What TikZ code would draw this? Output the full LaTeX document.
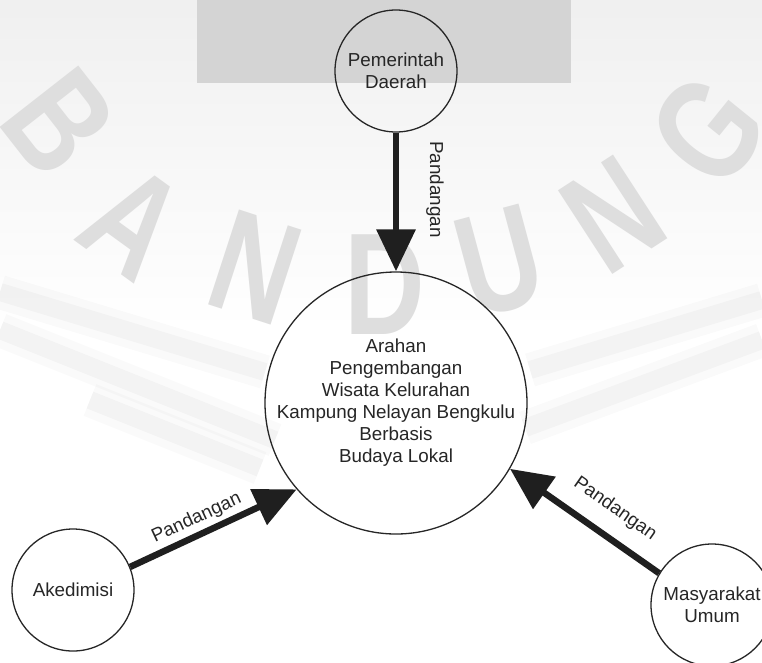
\documentclass[tikz,border=0pt]{standalone}
\usepackage{fontspec}
\setmainfont{Liberation Sans}
\usetikzlibrary{arrows.meta}
\begin{document}
\begin{tikzpicture}[x=1pt,y=-1pt,
  bub/.style={circle, draw=black!85, line width=1.3pt, inner sep=0pt,
    minimum size=#1, align=center, text=black!85,
    font=\fontsize{18.8}{22}\selectfont},
  txt/.style={align=center, text=black!85, inner sep=0pt,
    font=\fontsize{18.8}{22}\selectfont},
  flow/.style={line width=6.5pt, draw=black!88,
    -{Triangle[length=42pt,width=38pt]}},
  lbl/.style={font=\fontsize{18.8}{22}\selectfont, text=black!85,
    sloped, inner sep=0pt},
  wm/.style={text=gray!26, font=\fontsize{145}{145}\selectfont\bfseries,
    inner sep=0pt},
  bandA/.style={line width=34pt, black, opacity=0.018},
  bandB/.style={line width=18pt, black, opacity=0.028}
]
\useasboundingbox (0,0) rectangle (762,662);
\fill[white] (0,0) rectangle (762,662);
\shade[top color=gray!12, bottom color=white] (0,0) rectangle (762,330);
\fill[gray!34] (197,0) rectangle (571,83);
% blurred watermark wings
\foreach \a/\b in {{(0,292)}/{(265,372)}, {(0,330)}/{(275,440)}, {(90,400)}/{(260,468)},
                   {(762,300)}/{(530,370)}, {(762,340)}/{(525,428)}} {
  \draw[bandA] \a -- \b;
  \draw[bandB] \a -- \b;
}
% watermark letters
\node[wm, rotate=-52, xscale=0.77] (wb) at (60,123) {B};
\node[wm, rotate=-36, xscale=0.77] (wa) at (133,222) {A};
\node[wm, rotate=-18, xscale=0.77] (wn) at (255,268) {N};
\node[wm, rotate=0, xscale=0.77] (wd) at (385,285) {D};
\node[wm, rotate=15, xscale=0.77] (wu) at (500,262) {U};
\node[wm, rotate=33, xscale=0.77] (wn2) at (613,215) {N};
\node[wm, rotate=51, xscale=0.77] (wg) at (708,130) {G};
% nodes
\node[bub=122pt] (pd) at (396,71) {Pemerintah\\Daerah};
\node[bub=262pt, label={[txt]center:{Arahan\\Pengembangan\\Wisata Kelurahan\\Kampung Nelayan Bengkulu\\Berbasis\\Budaya Lokal}}] (main) at (396,403) {};
\node[bub=122pt] (ake) at (73,590) {Akedimisi};
\node[bub=122pt] (mu) at (712,605) {Masyarakat\\Umum};
% connectors
\draw[flow] (pd) -- (main) node[lbl, pos=0.41, above=27pt] {Pandangan};
\draw[flow] (ake.22.7) -- (main.221.7) node[lbl, pos=0.44, above=4pt] {Pandangan};
\draw[flow] (mu.149) -- (main.-30) node[lbl, pos=0.40, above=15pt] {Pandangan};
\end{tikzpicture}
\end{document}
